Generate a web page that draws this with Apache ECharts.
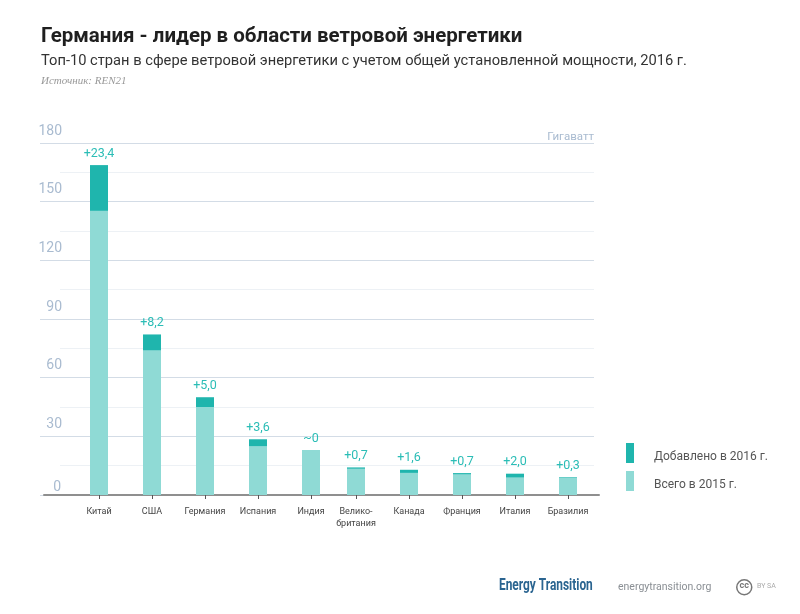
<!DOCTYPE html>
<html><head><meta charset="utf-8">
<style>html,body{margin:0;padding:0;background:#fff}#c{width:800px;height:614px}</style>
<script src="https://cdn.jsdelivr.net/npm/echarts@6/dist/echarts.min.js"></script>
</head><body><div id="c"></div>
<script>
const categories = ['Китай','США','Германия','Испания','Индия','Велико-\nбритания','Канада','Франция','Италия','Бразилия'];
const total2015 = [145.3,73.9,45.0,24.9,23.0,13.4,11.3,10.5,8.9,8.9];
const added2016 = [23.4,8.2,5.0,3.6,0,0.7,1.6,0.7,2.0,0.3];
const addedLabels = ['+23,4','+8,2','+5,0','+3,6','~0','+0,7','+1,6','+0,7','+2,0','+0,3'];
const yTicks = [30,60,90,120,150,180];
const yZeroTick = [0];
const titleText = 'Германия - лидер в области ветровой энергетики';
const subtitleText = 'Топ-10 стран в сфере ветровой энергетики с учетом общей установленной мощности, 2016 г.';
const sourceText = 'Источник: REN21';
const unitText = 'Гигаватт';
const name2015 = 'Всего в 2015 г.';
const name2016 = 'Добавлено в 2016 г.';

const FONT = 'Roboto, sans-serif';
const split = 5;   // the second group of columns sits slightly closer to the first
const hiddenX = i => ({type:'value', gridIndex:i, min:0, max:1, show:false});
const plainY = i => ({type:'value', gridIndex:i, min:0, max:180, interval:30,
  axisLine:{show:false}, axisTick:{show:false}, axisLabel:{show:false}, splitLine:{show:false}});
const catX = (i, cats) => ({type:'category', gridIndex:i, data:cats,
  axisLine:{show:false},
  axisTick:{show:true, alignWithLabel:true, length:4, lineStyle:{color:'#555', width:1}},
  axisLabel:{show:true, interval:0, margin:11, fontFamily:FONT, fontSize:9, color:'#444', lineHeight:12, verticalAlign:'top'},
  splitLine:{show:false}});
const barPair = (axis, from, to) => [
  {name:name2015, type:'bar', xAxisIndex:axis, yAxisIndex:axis, stack:'t'+axis, barWidth:18,
   itemStyle:{color:'#8fdad5'}, data:total2015.slice(from,to)},
  {name:name2016, type:'bar', xAxisIndex:axis, yAxisIndex:axis, stack:'t'+axis, barWidth:18,
   itemStyle:{color:'#1fb5ad'},
   label:{show:true, position:'top', distance:5, fontFamily:FONT, fontSize:12.5, color:'#2bbdb6',
     formatter:p => addedLabels[from+p.dataIndex]},
   data:added2016.slice(from,to)}
];

const chart = echarts.init(document.getElementById('c'), null, {renderer:'canvas'});
chart.setOption({
  animation:false,
  backgroundColor:'#fff',
  textStyle:{fontFamily:FONT},
  title:[
    {text:titleText, left:41, top:26, padding:0, textStyle:{fontFamily:FONT, fontSize:20.5, fontWeight:'bold', color:'#1f1f1f'}},
    {text:subtitleText, left:41, top:54, padding:0, textStyle:{fontFamily:FONT, fontSize:14.7, fontWeight:'normal', color:'#333'}},
    {text:sourceText, left:41, top:76, padding:0, textStyle:{fontFamily:'"Liberation Serif", serif', fontSize:11, fontStyle:'italic', fontWeight:'normal', color:'#999'}}
  ],
  legend:{
    orient:'vertical', left:626, top:443, padding:0, itemWidth:8, itemHeight:20, itemGap:8, icon:'rect',
    data:[name2016,name2015], selectedMode:false,
    formatter:n => '{a|' + n + '}',
    textStyle:{fontFamily:FONT, fontSize:12, color:'#555',
      rich:{a:{fontFamily:FONT, fontSize:12, color:'#555', padding:[7,0,0,15]}}}
  },
  grid:[
    {left:72.5, width:265, top:143, height:352},
    {left:329.5, width:265, top:143, height:352},
    {left:40, width:554, top:143, height:352},
    {left:60, width:534, top:143, height:352},
    {left:44, width:555, top:143, height:352}
  ],
  xAxis:[
    catX(0, categories.slice(0,split)),
    catX(1, categories.slice(split)),
    hiddenX(2), hiddenX(3),
    {type:'value', gridIndex:4, min:0, max:1, splitLine:{show:false}, axisTick:{show:false}, axisLabel:{show:false},
     axisLine:{show:true, onZero:false, lineStyle:{color:'#8f8f8f', width:2}}}
  ],
  yAxis:[
    plainY(0), plainY(1),
    {type:'value', gridIndex:2, min:0, max:180, interval:30,
     axisLine:{show:false}, axisTick:{show:false},
     splitLine:{show:true, lineStyle:{color:'#d3dce6', width:1}},
     axisLabel:{inside:true, margin:22, align:'right', verticalAlign:'bottom', padding:[0,0,5,0],
       fontFamily:FONT, fontSize:14, color:'#a9bbd0', customValues:yTicks}},
    {type:'value', gridIndex:3, min:0, max:180, interval:30,
     axisLine:{show:false}, axisTick:{show:false},
     axisLabel:{show:true, inside:true, margin:1, align:'right', verticalAlign:'bottom', padding:[0,0,1,0],
       fontFamily:FONT, fontSize:14, color:'#a9bbd0', customValues:yZeroTick},
     splitLine:{show:false},
     minorTick:{show:false, splitNumber:2},
     minorSplitLine:{show:true, lineStyle:{color:'#edf1f5', width:1}}},
    plainY(4)
  ],
  series:[...barPair(0,0,split), ...barPair(1,split,categories.length)],
  graphic:[
    {type:'text', right:206, top:131, style:{text:unitText, fontFamily:FONT, fontSize:11.5, fill:'#a9bbd0'}},
    {type:'text', x:499, y:577, scaleX:0.7, style:{text:'Energy Transition', fontFamily:'Roboto, sans-serif', fontSize:17, fontWeight:'bold', fill:'#2a6490'}},
    {type:'text', left:618, top:582, style:{text:'energytransition.org', fontFamily:FONT, fontSize:10.5, fill:'#8a8f94'}},
    {type:'circle', left:736, top:579, shape:{r:7.5}, style:{fill:'#fff', stroke:'#777', lineWidth:1.5}},
    {type:'text', left:739.5, top:581, style:{text:'cc', fontFamily:FONT, fontSize:9, fontWeight:'bold', fill:'#777'}},
    {type:'text', left:757, top:583, style:{text:'BY SA', fontFamily:FONT, fontSize:7, fill:'#aaa'}}
  ]
});
</script></body></html>
